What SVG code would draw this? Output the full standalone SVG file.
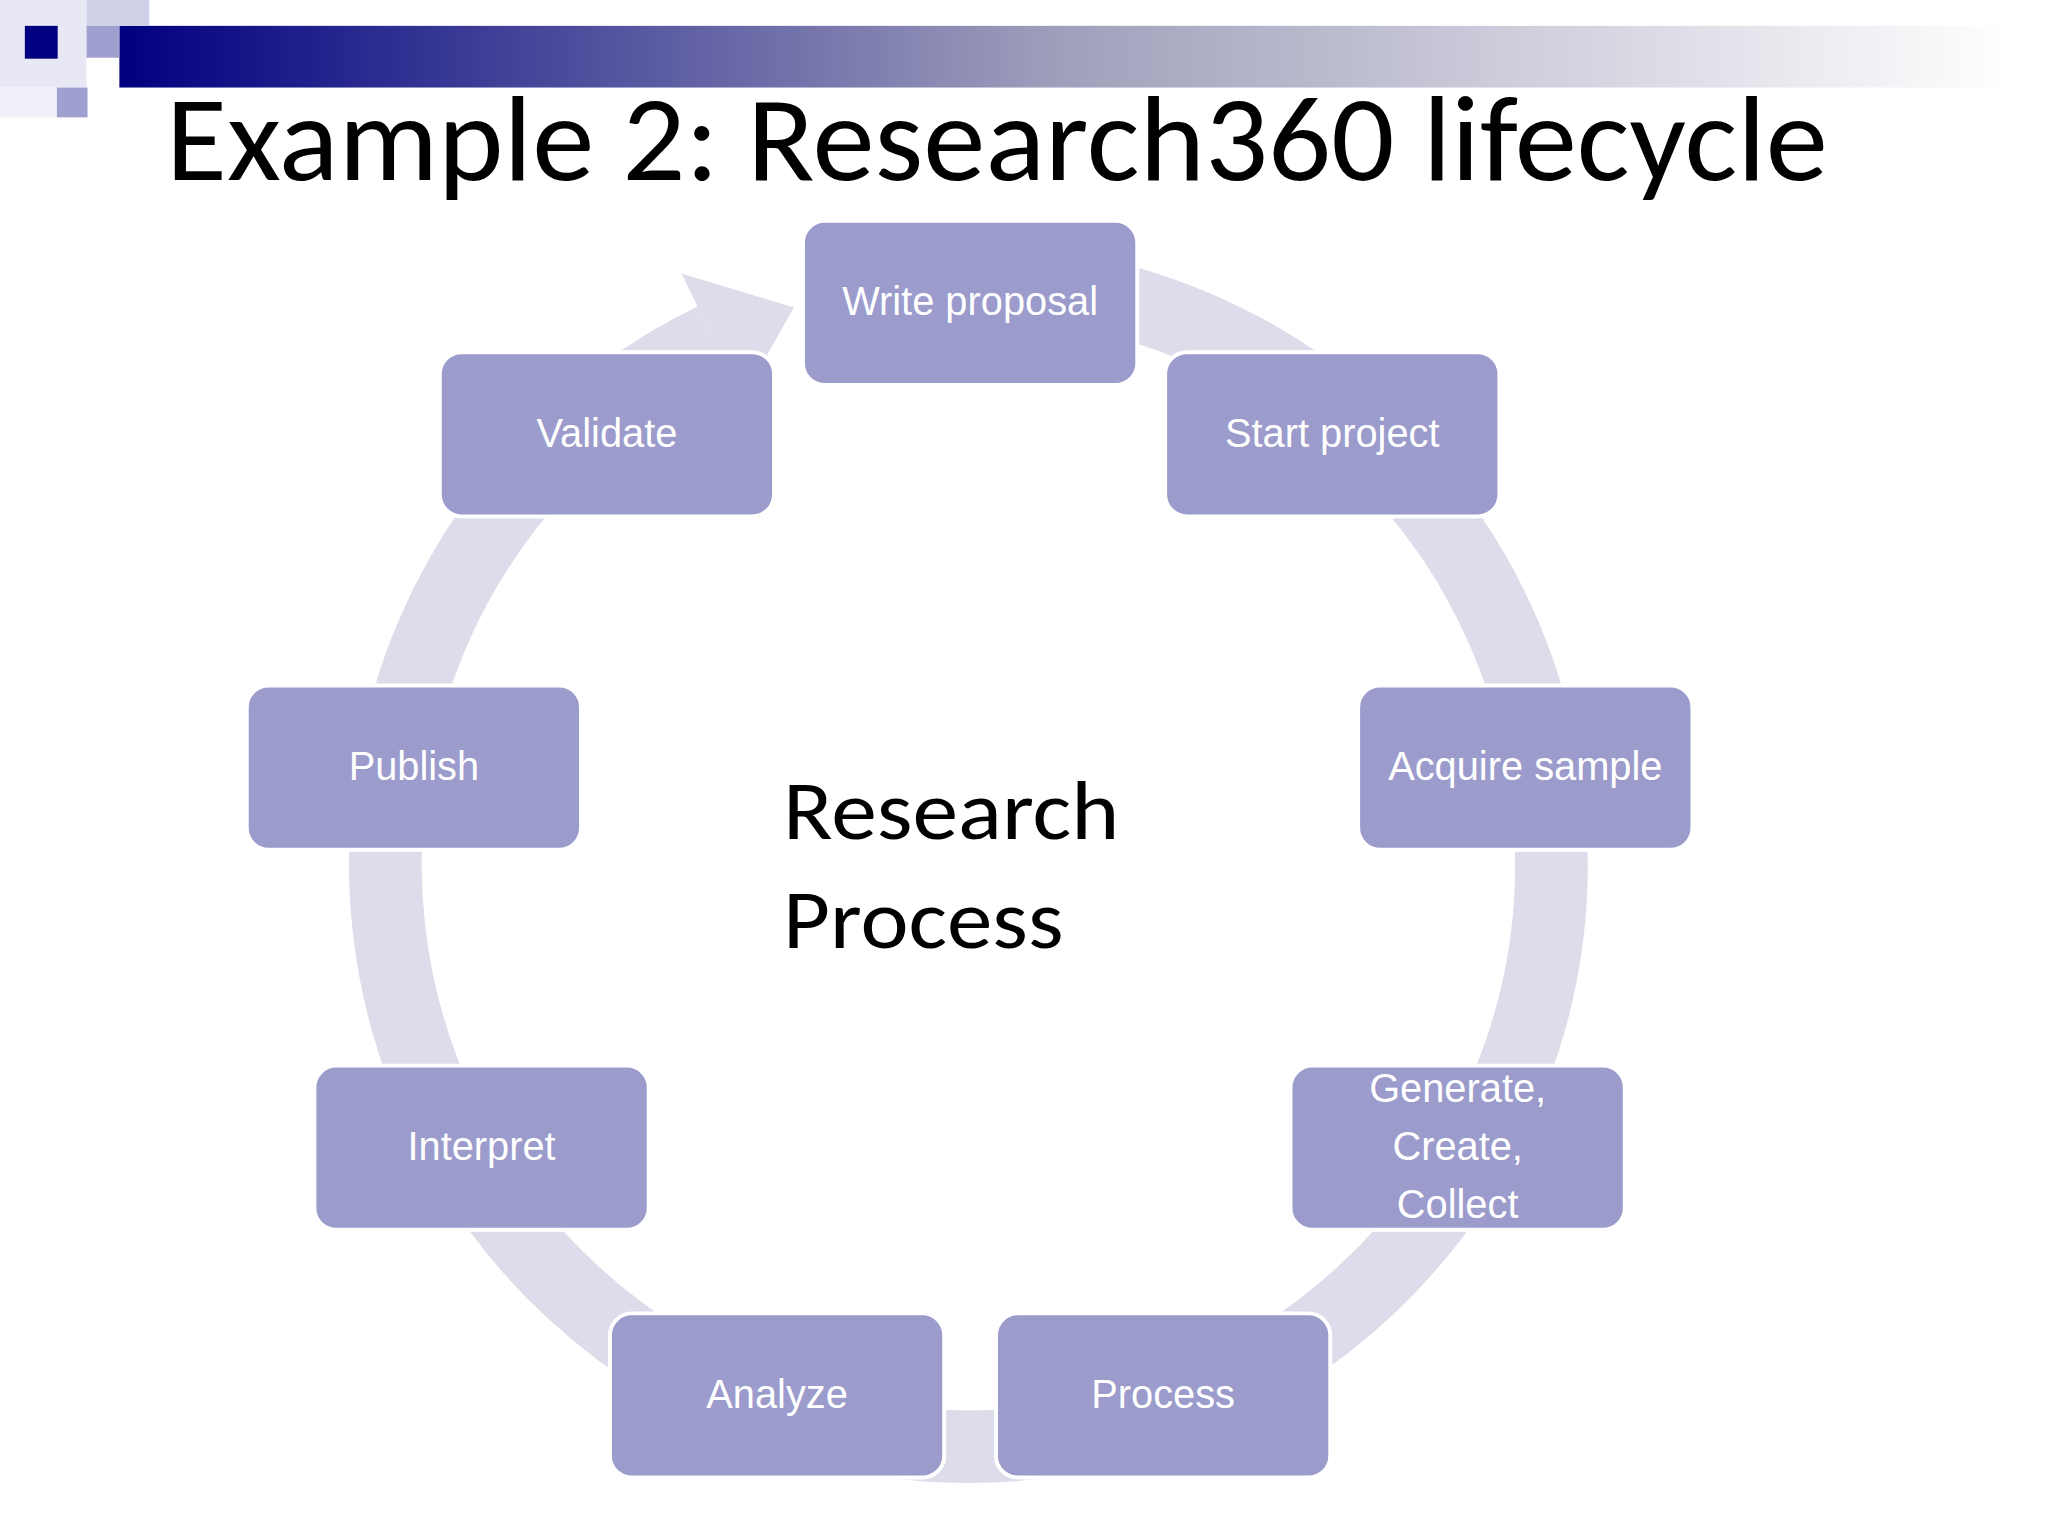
<svg xmlns="http://www.w3.org/2000/svg" width="2048" height="1536" viewBox="0 0 2048 1536">
<defs>
<linearGradient id="bar" x1="0" x2="1" y1="0" y2="0">
<stop offset="0" stop-color="#000080"/><stop offset="0.5" stop-color="#a0a0bc"/><stop offset="1" stop-color="#ffffff"/>
</linearGradient>
<style>
.n{fill:#9b9bcc;stroke:#fff;stroke-width:4}
.t{font-family:"Liberation Sans",Arial,sans-serif;font-size:40px;fill:#fff;text-anchor:middle}
</style>
</defs>
<rect width="2048" height="1536" fill="#fff"/>
<g transform="translate(-5,-4) scale(0.995)">
<rect x="125" y="30" width="1900" height="62" fill="url(#bar)"/>
<rect x="0" y="0" width="92" height="92" fill="#e8e8f4"/>
<rect x="30" y="30" width="33" height="33" fill="#000080"/>
<rect x="92" y="0" width="63" height="30" fill="#d0d0e8"/>
<rect x="92" y="30" width="33" height="32" fill="#a0a0d0"/>
<rect x="62" y="92" width="31" height="30" fill="#a0a0d0"/>
<rect x="0" y="92" width="62" height="30" fill="#f0f0f8"/>
<text x="172" y="185" font-family="Carlito,'Open Sans',sans-serif" font-size="122" textLength="1670" lengthAdjust="spacingAndGlyphs">Example 2: Research360 lifecycle</text>
<g id="connectors">
<path d="M979,286 A586,586 0 1 1 722,345" fill="none" stroke="#dcdcea" stroke-width="73"/>
<polygon points="751,405 690,279 803,313" fill="#dcdcea"/>
</g>
<g id="n1"><rect class="n" x="812" y="226" width="336" height="165" rx="22"/><text class="t" x="980" y="321">Write proposal</text></g>
<g id="n2"><rect class="n" x="1176" y="358" width="336" height="165" rx="22"/><text class="t" x="1344" y="453">Start project</text></g>
<g id="n3"><rect class="n" x="1370" y="693" width="336" height="165" rx="22"/><text class="t" x="1538" y="788">Acquire sample</text></g>
<g id="n4"><rect class="n" x="1302" y="1075" width="336" height="165" rx="22"/><text class="t" x="1470" y="1112">Generate,</text><text class="t" x="1470" y="1170">Create,</text><text class="t" x="1470" y="1228">Collect</text></g>
<g id="n5"><rect class="n" x="1006" y="1324" width="336" height="165" rx="22"/><text class="t" x="1174" y="1419">Process</text></g>
<g id="n6"><rect class="n" x="618" y="1324" width="336" height="165" rx="22"/><text class="t" x="786" y="1419">Analyze</text></g>
<g id="n7"><rect class="n" x="321" y="1075" width="336" height="165" rx="22"/><text class="t" x="489" y="1170">Interpret</text></g>
<g id="n8"><rect class="n" x="253" y="693" width="336" height="165" rx="22"/><text class="t" x="421" y="788">Publish</text></g>
<g id="n9"><rect class="n" x="447" y="358" width="336" height="165" rx="22"/><text class="t" x="615" y="453">Validate</text></g>
<g id="center" font-family="Carlito,'Open Sans',sans-serif" font-size="84" fill="#000">
<text x="792" y="847" textLength="338" lengthAdjust="spacingAndGlyphs">Research</text>
<text x="792" y="957" textLength="282" lengthAdjust="spacingAndGlyphs">Process</text>
</g>
</g>
</svg>
